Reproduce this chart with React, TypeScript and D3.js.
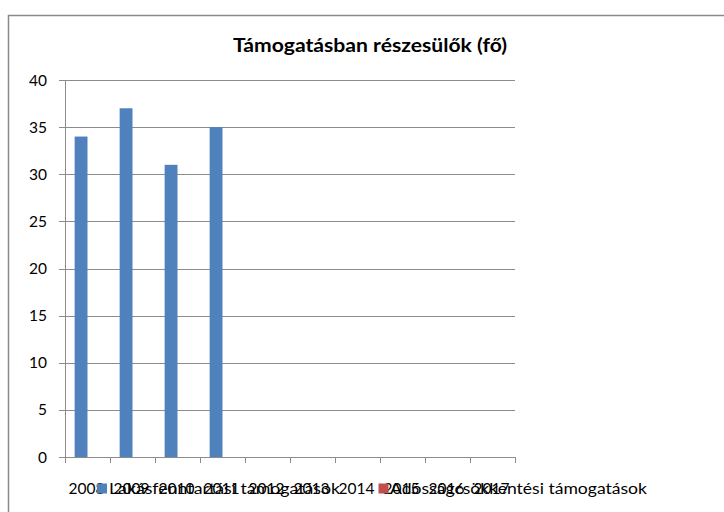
import React from "react";
import * as d3 from "d3";

const categories = ["2008", "2009", "2010", "2011", "2012", "2013", "2014", "2015", "2016", "2017"];
const seriesNames = ["Lakásfenntartási támogatások", "Adósságcsökkentési támogatások"];
const lakasValues: (number | null)[] = [34, 37, 31, 35, null, null, null, null, null, null];
const adossagValues: (number | null)[] = [null, null, null, null, null, null, null, null, null, null];
const yTicks = [0, 5, 10, 15, 20, 25, 30, 35, 40];
const title = "Támogatásban részesülők (fő)";
const colors = ["#4F81BD", "#C0504D"];

export default function App() {
  const W = 724, H = 512;
  const left = 65, right = 515, top = 80, bottom = 457;
  const x = d3.scaleBand<string>().domain(categories).range([left, right]).padding(0);
  const inner = d3.scaleBand<number>().domain([0, 1]).range([0, x.bandwidth()]).paddingInner(0).paddingOuter(0.75);
  const y = d3.scaleLinear().domain([0, 40]).range([bottom, top]);
  const series = [lakasValues, adossagValues];
  const font = "Lato, 'Open Sans', sans-serif";
  const fs = 15.5;

  return (
    <svg width={W} height={H} style={{ position: "absolute", left: 0, top: 0, background: "#fff" }} fontFamily={font}>
      <rect x={0} y={0} width={W} height={H} fill="#fff" />
      <path d={`M8.5,${H} V15.5 H${W}`} fill="none" stroke="#8a8a8a" strokeWidth={1.5} />
      <text x={233} y={52} fontSize={19.5} fontWeight="bold" fill="#000" textLength={274} lengthAdjust="spacingAndGlyphs">{title}</text>
      {yTicks.map((t) => (
        <g key={t}>
          {t > 0 && <line x1={left} x2={right} y1={Math.round(y(t)) + 0.5} y2={Math.round(y(t)) + 0.5} stroke="#8c8c8c" strokeWidth={1} />}
          <line x1={left - 6} x2={left} y1={Math.round(y(t)) + 0.5} y2={Math.round(y(t)) + 0.5} stroke="#8c8c8c" />
          <text x={left - 18} y={y(t)} dy="0.36em" textAnchor="end" fontSize={fs} fill="#000">{t}</text>
        </g>
      ))}
      {series.map((vals, si) =>
        vals.map((v, ci) =>
          v == null ? null : (
            <rect key={`${si}-${ci}`} x={(x(categories[ci]) as number) + (inner(si) as number)} y={y(v)} width={inner.bandwidth()} height={y(0) - y(v)} fill={colors[si]} />
          )
        )
      )}
      <line x1={left + 0.5} x2={left + 0.5} y1={top} y2={bottom} stroke="#8c8c8c" />
      <line x1={left} x2={right} y1={bottom + 0.5} y2={bottom + 0.5} stroke="#8c8c8c" />
      {categories.concat([""]).map((c, i) => {
        const xx = Math.round(left + i * x.step()) + 0.5;
        return <line key={"t" + i} x1={xx} x2={xx} y1={bottom} y2={bottom + 6} stroke="#8c8c8c" />;
      })}
      {categories.map((c) => (
        <text key={c} x={(x(c) as number) + x.bandwidth() / 2 - 1} y={488} dy="0.36em" textAnchor="middle" fontSize={fs} fill="#000">{c}</text>
      ))}
      <rect x={97} y={483.5} width={10} height={10} fill={colors[0]} />
      <text x={109} y={488.5} dy="0.36em" fontSize={fs} fill="#000" textLength={231} lengthAdjust="spacingAndGlyphs">{seriesNames[0]}</text>
      <rect x={378.5} y={483.5} width={10} height={10} fill={colors[1]} />
      <text x={390} y={488.5} dy="0.36em" fontSize={fs} fill="#000" textLength={257} lengthAdjust="spacingAndGlyphs">{seriesNames[1]}</text>
    </svg>
  );
}
